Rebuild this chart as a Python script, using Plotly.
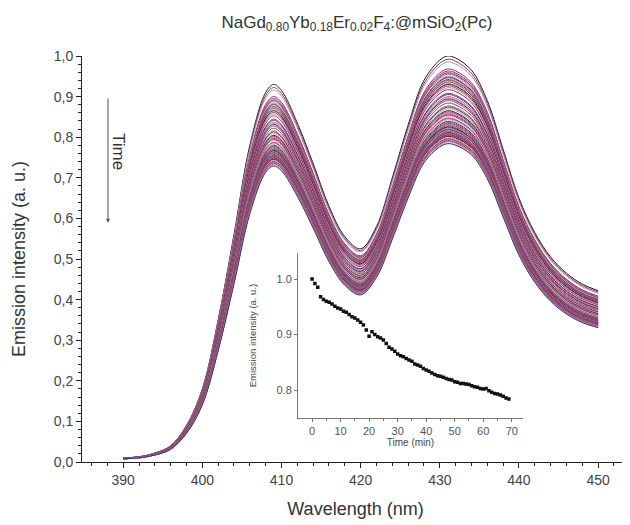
import plotly.graph_objects as go

# ---- data ----
wavelength = [390, 392, 394, 396, 398, 400, 402, 404, 406, 408, 409, 410, 412, 414, 416, 418,
              420, 422, 424, 426, 428, 430, 431, 432, 434, 436, 438, 440, 442, 444, 446, 448, 450]
# spectrum at t = 0 (top curve)
spectrum_t0 = [0.010, 0.013, 0.022, 0.040, 0.090, 0.180, 0.350, 0.560, 0.780, 0.910, 0.930, 0.915,
               0.835, 0.735, 0.630, 0.555, 0.525, 0.580, 0.700, 0.830, 0.940, 0.990, 1.000, 0.995,
               0.965, 0.890, 0.770, 0.650, 0.565, 0.505, 0.465, 0.438, 0.422]

# inset: relative emission intensity vs time
time_min = [0, 1, 2, 3, 4, 5, 6, 7, 8, 9, 10, 11, 12, 13, 14, 15, 16, 17, 18, 19, 20, 21, 22, 23,
            24, 25, 26, 27, 28, 29, 30, 31, 32, 33, 34, 35, 36, 37, 38, 39, 40, 41, 42, 43, 44, 45,
            46, 47, 48, 49, 50, 51, 52, 53, 54, 55, 56, 57, 58, 59, 60, 61, 62, 63, 64, 65, 66, 67,
            68, 69]
rel_intensity = [1.000, 0.992, 0.985, 0.968, 0.963, 0.960, 0.958, 0.955, 0.951, 0.948, 0.946, 0.942,
                 0.940, 0.936, 0.932, 0.930, 0.926, 0.922, 0.917, 0.908, 0.897, 0.905, 0.900, 0.896,
                 0.894, 0.890, 0.884, 0.877, 0.874, 0.870, 0.865, 0.862, 0.860, 0.857, 0.854, 0.852,
                 0.847, 0.845, 0.843, 0.839, 0.836, 0.834, 0.831, 0.828, 0.826, 0.825, 0.823, 0.821,
                 0.819, 0.818, 0.815, 0.814, 0.812, 0.812, 0.811, 0.810, 0.808, 0.806, 0.805, 0.803,
                 0.802, 0.803, 0.799, 0.796, 0.794, 0.793, 0.791, 0.789, 0.786, 0.784]

y_tickvals = [0.0, 0.1, 0.2, 0.3, 0.4, 0.5, 0.6, 0.7, 0.8, 0.9, 1.0]
y_ticktext = ["0,0", "0,1", "0,2", "0,3", "0,4", "0,5", "0,6", "0,7", "0,8", "0,9", "1,0"]
x_tickvals = [390, 400, 410, 420, 430, 440, 450]
inset_x_ticks = [0, 10, 20, 30, 40, 50, 60, 70]
inset_y_ticks = [0.8, 0.9, 1.0]

line_colors = ['#1a1a1a', '#9b2d5e', '#9a9aa8', '#c2185b', '#4b3c8c', '#e3a0b8',
               '#6b2a5f', '#d0607f', '#b8b8b8', '#2e2e6e', '#8a4f8a', '#b03a48',
               '#6a6a6a', '#7d2450', '#c890a8']

FONT = "Liberation Sans, Arial, sans-serif"

fig = go.Figure()

for i, f in enumerate(rel_intensity):
    fig.add_trace(go.Scatter(
        x=wavelength, y=[v * f for v in spectrum_t0], mode="lines",
        line=dict(color=line_colors[i % len(line_colors)], width=1, shape="spline"),
        showlegend=False, hoverinfo="skip"))

fig.add_trace(go.Scatter(
    x=time_min, y=rel_intensity, mode="markers", xaxis="x2", yaxis="y2",
    marker=dict(symbol="square", size=3.5, color="#111111"), showlegend=False))

# page body has an 8px default margin, so the figure is sized/offset to compensate
fig.update_layout(
    width=622, height=517,
    margin=dict(l=74, r=1, t=48, b=63, autoexpand=False),
    paper_bgcolor="white", plot_bgcolor="rgba(0,0,0,0)",
    font=dict(family=FONT, color="#333333"),
    title=dict(text="NaGd<sub>0.80</sub>Yb<sub>0.18</sub>Er<sub>0.02</sub>F<sub>4</sub>:@mSiO<sub>2</sub>(Pc)",
               x=0.561, xanchor="center", y=0.973, yanchor="middle",
               font=dict(size=17, color="#333333", family=FONT)),
    xaxis=dict(range=[384.8, 453.9], tickvals=x_tickvals, showgrid=False, zeroline=False,
               automargin=False,
               showline=True, linecolor="#222222", linewidth=1,
               ticks="outside", ticklen=5, tickcolor="#222222",
               minor=dict(dtick=2, ticks="outside", ticklen=3, tickcolor="#222222"),
               tickfont=dict(size=14, color="#444444"),
               title=dict(text="Wavelength (nm)", font=dict(size=18, color="#333333"), standoff=15)),
    yaxis=dict(range=[0, 1.0], tickvals=y_tickvals, ticktext=y_ticktext, showgrid=False,
               automargin=False,
               zeroline=False, showline=True, linecolor="#222222", linewidth=1,
               ticks="outside", ticklen=5, tickcolor="#222222",
               minor=dict(dtick=0.02, ticks="outside", ticklen=3, tickcolor="#222222"),
               tickfont=dict(size=14, color="#444444"),
               title=dict(text="Emission intensity (a. u.)", font=dict(size=18, color="#333333"), standoff=23)),
    xaxis2=dict(domain=[0.395, 0.806], anchor="y2", range=[-4.9, 73.9], tickvals=inset_x_ticks,
                automargin=False,
                showgrid=False, zeroline=False, showline=True, linecolor="#777777", linewidth=1,
                ticks="outside", ticklen=3, tickcolor="#777777",
                minor=dict(dtick=5, ticks="outside", ticklen=2, tickcolor="#777777"),
                tickfont=dict(size=11, color="#555555"),
                title=dict(text="Time (min)", font=dict(size=10, color="#444444"), standoff=1)),
    yaxis2=dict(domain=[0.108, 0.515], anchor="x2", range=[0.7495, 1.047], tickvals=inset_y_ticks,
                ticktext=["0.8", "0.9", "1.0"], automargin=False,
                showgrid=False, zeroline=False, showline=True, linecolor="#777777", linewidth=1,
                ticks="outside", ticklen=3, tickcolor="#777777",
                tickfont=dict(size=11, color="#555555"),
                title=dict(text="Emission intensity (a. u.)", font=dict(size=9.5, color="#444444"), standoff=18)),
    annotations=[
        dict(x=0.0475, y=0.589, xref="paper", yref="paper", ax=0, ay=-126, axref="pixel", ayref="pixel",
             showarrow=True, arrowhead=2, arrowsize=0.8, arrowwidth=1, arrowcolor="#555555", text=""),
        dict(x=0.0676, y=0.7635, xref="paper", yref="paper", text="Time", textangle=90,
             xanchor="center", yanchor="middle",
             showarrow=False, font=dict(size=17, color="#333333", family=FONT)),
    ],
)

fig.write_html("out.html")
